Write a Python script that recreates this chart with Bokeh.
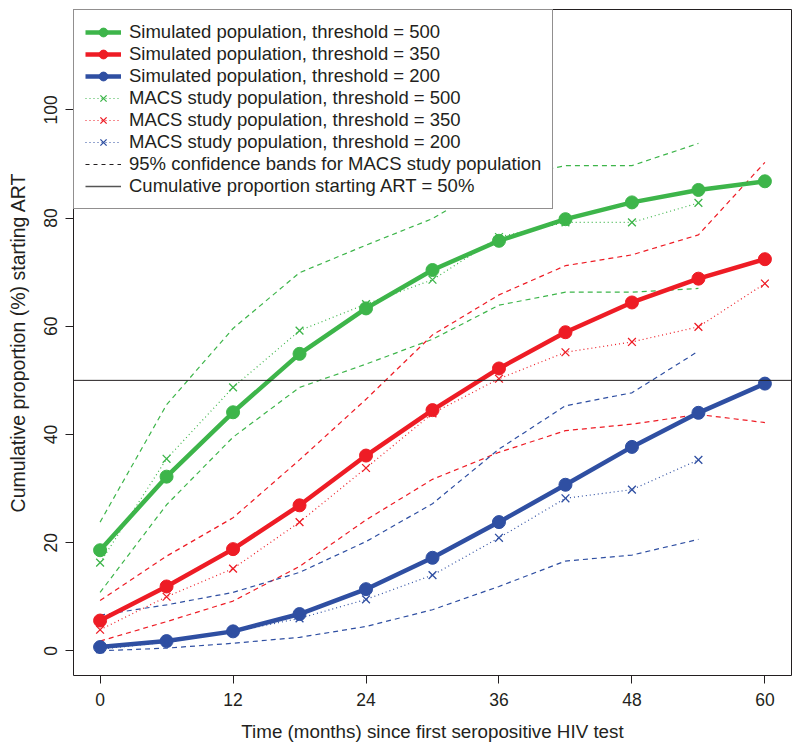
from bokeh.plotting import figure
from bokeh.models import (Range1d, FixedTicker, Span, Legend, LegendItem, ColumnDataSource)
from bokeh.embed import file_html
from bokeh.resources import INLINE

# ---- data ----
months = [0, 6, 12, 18, 24, 30, 36, 42, 48, 54, 60]
months54 = months[:10]

sim500 = [18.6, 32.2, 44.1, 54.9, 63.3, 70.4, 75.8, 79.8, 82.9, 85.2, 86.8]
sim350 = [5.6, 11.9, 18.8, 26.9, 36.1, 44.5, 52.2, 58.9, 64.4, 68.8, 72.4]
sim200 = [0.7, 1.8, 3.6, 6.8, 11.4, 17.2, 23.8, 30.7, 37.7, 44.0, 49.4]

macs500 = [16.3, 35.5, 48.7, 59.2, 64.1, 68.6, 76.5, 79.2, 79.2, 82.8]
macs350 = [3.9, 10.0, 15.2, 23.8, 33.8, 43.9, 50.3, 55.2, 57.1, 59.9, 67.9]
macs200 = [0.3, 1.6, 3.5, 6.0, 9.5, 14.0, 20.9, 28.2, 29.8, 35.3]

upper500 = [23.8, 45.5, 59.6, 69.9, 75.0, 79.9, 87.2, 89.7, 89.7, 93.8]
lower500 = [10.8, 27.0, 39.5, 48.7, 53.0, 57.6, 63.9, 66.3, 66.3, 67.0]
upper350 = [9.3, 17.5, 24.6, 35.3, 46.5, 58.4, 65.8, 71.2, 73.2, 76.9, 90.3]
lower350 = [1.8, 5.4, 9.2, 15.6, 24.2, 31.7, 36.7, 40.7, 41.9, 43.7, 42.2]
upper200 = [6.6, 8.5, 10.8, 14.5, 20.2, 27.2, 37.3, 45.3, 47.7, 55.4]
lower200 = [0.0, 0.5, 1.4, 2.5, 4.5, 7.6, 11.9, 16.6, 17.7, 20.6]

x_ticks = [0, 12, 24, 36, 48, 60]
y_ticks = [0, 20, 40, 60, 80, 100]
reference_level = 50

legend_labels = [
    "Simulated population, threshold = 500",
    "Simulated population, threshold = 350",
    "Simulated population, threshold = 200",
    "MACS study population, threshold = 500",
    "MACS study population, threshold = 350",
    "MACS study population, threshold = 200",
    "95% confidence bands for MACS study population",
    "Cumulative proportion starting ART = 50%",
]

GREEN = "#3DB54A"
RED = "#EE1C25"
BLUE = "#2F4FA2"
INK = "#231F20"
GREY = "#555555"
FONT = "'Liberation Sans', Arial, Helvetica, sans-serif"

p = figure(width=792, height=744, output_backend="svg", toolbar_location=None,
           x_range=Range1d(-2.4, 62.4), y_range=Range1d(-4.56, 118.56),
           min_border_left=73, min_border_right=1, min_border_top=9, min_border_bottom=65)
p.grid.visible = False
p.outline_line_color = INK
p.outline_line_width = 1
p.background_fill_color = "white"
p.border_fill_color = "white"

for ax, ticks in ((p.xaxis, x_ticks), (p.yaxis, y_ticks)):
    ax.ticker = FixedTicker(ticks=ticks)
    ax.axis_line_color = None
    ax.major_tick_line_color = INK
    ax.major_tick_out = 8
    ax.major_tick_in = 0
    ax.minor_tick_line_color = None
    ax.major_label_text_font = FONT
    ax.major_label_text_font_size = "17.5px"
    ax.major_label_text_color = INK
    ax.axis_label_text_font = FONT
    ax.axis_label_text_font_style = "normal"
    ax.axis_label_text_color = INK

p.xaxis.axis_label = "Time (months) since first seropositive HIV test"
p.xaxis.axis_label_text_font_size = "18.8px"
p.xaxis.major_label_standoff = 9
p.xaxis.axis_label_standoff = 12

p.yaxis.axis_label = "Cumulative proportion (%) starting ART"
p.yaxis.axis_label_text_font_size = "19.5px"
p.yaxis.major_label_orientation = "vertical"
p.yaxis.major_label_standoff = 8
p.yaxis.axis_label_standoff = 13

p.add_layout(Span(location=reference_level, dimension="width", line_color=INK, line_width=1))

# confidence bands
for xs, ys, c in ((months54, upper500, GREEN), (months54, lower500, GREEN),
                  (months, upper350, RED), (months, lower350, RED),
                  (months54, upper200, BLUE), (months54, lower200, BLUE)):
    p.line(xs, ys, line_color=c, line_width=1.2, line_dash="5 4")

items = []
# simulated
for ys, c in ((sim500, GREEN), (sim350, RED), (sim200, BLUE)):
    l = p.line(months, ys, line_color=c, line_width=4.5)
    s = p.scatter(months, ys, marker="circle", size=13, fill_color=c, line_color=c)
    items.append([l, s])
# MACS
for xs, ys, c in ((months54, macs500, GREEN), (months, macs350, RED), (months54, macs200, BLUE)):
    l = p.line(xs, ys, line_color=c, line_width=1.2, line_dash="1 3")
    s = p.scatter(xs, ys, marker="x", size=11, line_color=c, line_width=1.3)
    items.append([l, s])

# legend-only keys (no visible data)
nan = float("nan")
key_src = ColumnDataSource(data=dict(x=[nan], y=[nan]))
band_key = p.line("x", "y", source=key_src, line_color=INK, line_width=1.2, line_dash="4 4")
ref_key = p.line("x", "y", source=key_src, line_color=GREY, line_width=1.5)
items.append([band_key])
items.append([ref_key])

legend = Legend(items=[LegendItem(label=lab, renderers=r) for lab, r in zip(legend_labels, items)],
                location="top_left", margin=0, padding=11, spacing=0,
                glyph_width=36, glyph_height=22, label_height=22, label_standoff=8,
                label_width=412,
                label_text_font=FONT, label_text_font_size="18.5px", label_text_color=INK,
                border_line_color=INK, border_line_width=1,
                background_fill_color="white", background_fill_alpha=1.0)
p.add_layout(legend)

open("out.html", "w").write(file_html(p, INLINE))
